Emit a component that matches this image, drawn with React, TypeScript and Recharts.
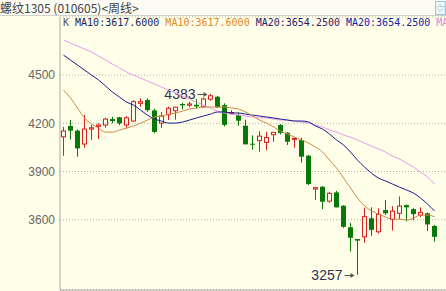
import { ComposedChart, Bar, Line, XAxis, YAxis, CartesianGrid } from 'recharts';

// weekly OHLC
const open = [4116, 4183, 4154, 4071, 4164, 4181, 4189, 4226, 4237, 4189, 4214, 4324, 4345, 4280, 4201, 4253, 4278, 4320, 4312, 4315, 4303, 4350, 4365, 4313, 4265, 4251, 4185, 4073, 4092, 4081, 4129, 4189, 4141, 4100, 4096, 3998, 3791, 3805, 3716, 3770, 3687, 3553, 3480, 3494, 3609, 3525, 3660, 3603, 3640, 3691, 3666, 3629, 3640, 3561];
const high = [4178, 4220, 4162, 4251, 4189, 4200, 4234, 4240, 4240, 4245, 4344, 4355, 4355, 4290, 4270, 4303, 4303, 4328, 4334, 4350, 4361, 4383, 4370, 4324, 4282, 4266, 4222, 4125, 4150, 4147, 4145, 4195, 4145, 4110, 4110, 4004, 3805, 3810, 3774, 3780, 3690, 3580, 3480, 3675, 3677, 3671, 3722, 3685, 3745, 3695, 3672, 3677, 3645, 3567];
const low = [3998, 4100, 3992, 4048, 4096, 4102, 4172, 4200, 4189, 4168, 4210, 4303, 4272, 4140, 4170, 4220, 4222, 4287, 4299, 4290, 4299, 4340, 4295, 4180, 4255, 4185, 4069, 4035, 4023, 4033, 4085, 4130, 4065, 4048, 3955, 3816, 3722, 3666, 3706, 3677, 3550, 3402, 3257, 3457, 3500, 3515, 3630, 3533, 3605, 3590, 3597, 3617, 3530, 3463];
const close = [4152, 4154, 4044, 4164, 4172, 4189, 4226, 4214, 4200, 4234, 4334, 4334, 4282, 4146, 4245, 4293, 4300, 4312, 4320, 4305, 4351, 4371, 4300, 4190, 4267, 4216, 4069, 4067, 4120, 4112, 4143, 4140, 4085, 4106, 3992, 3822, 3799, 3712, 3764, 3677, 3556, 3488, 3470, 3619, 3537, 3634, 3640, 3654, 3685, 3677, 3635, 3646, 3571, 3494];

// moving averages as drawn
const ma10 = [4407, 4357, 4295, 4233, 4195, 4170, 4145, 4145, 4158, 4170, 4183, 4201, 4220, 4239, 4245, 4257, 4264, 4276, 4289, 4295, 4301, 4301, 4301, 4301, 4295, 4289, 4270, 4245, 4220, 4201, 4177, 4152, 4133, 4114, 4096, 4077, 4052, 4021, 3971, 3922, 3860, 3798, 3735, 3686, 3655, 3636, 3617, 3604, 3604, 3598, 3611, 3629, 3629, 3618];
const ma20 = [4624, 4593, 4562, 4531, 4500, 4469, 4432, 4394, 4363, 4332, 4313, 4282, 4251, 4226, 4214, 4201, 4201, 4208, 4220, 4233, 4245, 4257, 4270, 4270, 4264, 4264, 4257, 4251, 4245, 4239, 4233, 4226, 4220, 4214, 4214, 4208, 4183, 4164, 4133, 4096, 4065, 4021, 3971, 3928, 3890, 3859, 3841, 3822, 3803, 3785, 3766, 3735, 3698, 3654];
const ma60 = [4718, 4699, 4680, 4662, 4643, 4618, 4593, 4568, 4544, 4519, 4500, 4481, 4463, 4444, 4425, 4407, 4388, 4369, 4351, 4332, 4313, 4295, 4276, 4264, 4257, 4251, 4245, 4239, 4233, 4233, 4226, 4220, 4220, 4214, 4208, 4201, 4189, 4177, 4158, 4145, 4127, 4114, 4096, 4077, 4058, 4040, 4021, 3996, 3978, 3953, 3928, 3897, 3866, 3822];

const yTicks = [3600, 3900, 4200, 4500];

const data = open.map((o, i) => ({
  i,
  open: o,
  high: high[i],
  low: low[i],
  close: close[i],
  ma10: ma10[i],
  ma20: ma20[i],
  ma60: ma60[i],
}));

const hiIdx = high.indexOf(Math.max(...high));
const loIdx = low.indexOf(Math.min(...low));

const RED = '#d81e1e';
const GREEN = '#087808';
const NOTE = '#2f2f4f';

function Candle(props: any) {
  const { x, y, width, height, payload, index } = props;
  const { open: o, close: c, high: h, low: l } = payload;
  const py = (v: number) => y + ((h - v) / (h - l)) * height;
  const cx = Math.floor(x + width / 2) + 0.5;
  const up = c >= o;
  const top = py(Math.max(o, c));
  const bot = Math.max(py(Math.min(o, c)), top + 1);
  const col = up ? RED : GREEN;
  const yh = py(h);
  const yl = py(l);

  let note = null;
  if (index === hiIdx || index === loIdx) {
    const ny = index === hiIdx ? yh : yl;
    note = (
      <g>
        <text x={cx - 15} y={ny + 5} textAnchor="end" fontSize={14} fontFamily="Liberation Sans" fill={NOTE}>
          {index === hiIdx ? h : l}
        </text>
        <line x1={cx - 13} y1={Math.round(ny) + 0.5} x2={cx - 4} y2={Math.round(ny) + 0.5} stroke="#555" />
        <path d={`M${cx - 3} ${Math.round(ny) + 0.5} l-4 -2.5 v5 z`} fill="#555" />
      </g>
    );
  }

  if (up) {
    return (
      <g>
        <line x1={cx} y1={yh} x2={cx} y2={top} stroke={col} />
        <line x1={cx} y1={bot} x2={cx} y2={yl} stroke={col} />
        <rect x={cx - 2} y={top} width={4} height={Math.max(bot - top, 0.5)} fill="none" stroke={col} />
        {note}
      </g>
    );
  }
  return (
    <g>
      <line x1={cx} y1={yh} x2={cx} y2={yl} stroke={col} />
      <rect x={cx - 2.5} y={top} width={5} height={bot - top} fill={col} />
      {note}
    </g>
  );
}

const legend = [
  { t: 'K ', c: '#555' },
  { t: 'MA10:3617.6000 ', c: '#1e1e5a' },
  { t: 'MA10:3617.6000 ', c: '#e08a28' },
  { t: 'MA20:3654.2500 ', c: '#2a1866' },
  { t: 'MA20:3654.2500 ', c: '#2020a8' },
  { t: 'MA60:3822.0000', c: '#e27ee2' },
];

export default function App() {
  return (
    <div style={{ position: 'absolute', left: 0, top: 0, width: 446, height: 291, background: '#fefee9', overflow: 'hidden' }}>
      <div
        style={{
          position: 'absolute', left: 0, top: 0, width: 446, height: 15,
          background: '#fcfcf4', borderBottom: '1px solid #d0d0c8',
          fontFamily: '"Noto Sans CJK SC"', fontSize: 12, lineHeight: '15px', color: '#444', whiteSpace: 'nowrap',
        }}
      >
        螺纹1305 (010605)&lt;周线&gt;
        <div
          style={{
            position: 'absolute', right: 0, top: 1, width: 9, height: 12, border: '1px solid #9cc6dc',
            background: '#eef6fa', color: '#7aaed0', fontSize: 10, lineHeight: '12px', overflow: 'hidden',
          }}
        >
          ⇦
        </div>
      </div>
      <div
        style={{
          position: 'absolute', left: 63, top: 17, width: 383, height: 12, overflow: 'hidden', whiteSpace: 'pre',
          fontFamily: '"DejaVu Sans Mono"', fontSize: 10, lineHeight: '12px', zIndex: 2,
        }}
      >
        {legend.map((s, k) => (
          <span key={k} style={{ color: s.c }}>{s.t}</span>
        ))}
      </div>
      <ComposedChart width={446} height={291} data={data} margin={{ top: 17, right: 0, bottom: 0, left: 0 }} barCategoryGap={0} style={{ position: 'absolute', left: 0, top: 0 }}>
        <CartesianGrid vertical={false} stroke="#b4b4ac" strokeDasharray="1 2" />
        <XAxis dataKey="i" height={1} tick={false} tickLine={false} axisLine={{ stroke: '#a8a8a8' }} padding={{ left: 0, right: 8 }} />
        <YAxis
          domain={[3163, 4861]}
          ticks={yTicks}
          allowDataOverflow
          width={60}
          tickLine={false}
          tickSize={0}
          tickMargin={5}
          axisLine={{ stroke: '#a8a8a8' }}
          tick={{ fill: '#666', fontSize: 12, fontFamily: 'Liberation Sans' }}
        />
        <Line dataKey="ma60" type="monotone" stroke="#e89ae8" strokeWidth={1} dot={false} isAnimationActive={false} />
        <Line dataKey="ma20" type="monotone" stroke="#1c1c90" strokeWidth={1} dot={false} isAnimationActive={false} />
        <Line dataKey="ma10" type="monotone" stroke="#cc8a4e" strokeWidth={1} dot={false} isAnimationActive={false} />
        <Bar dataKey={(d: any) => [d.low, d.high]} shape={Candle} isAnimationActive={false} />
      </ComposedChart>
    </div>
  );
}
